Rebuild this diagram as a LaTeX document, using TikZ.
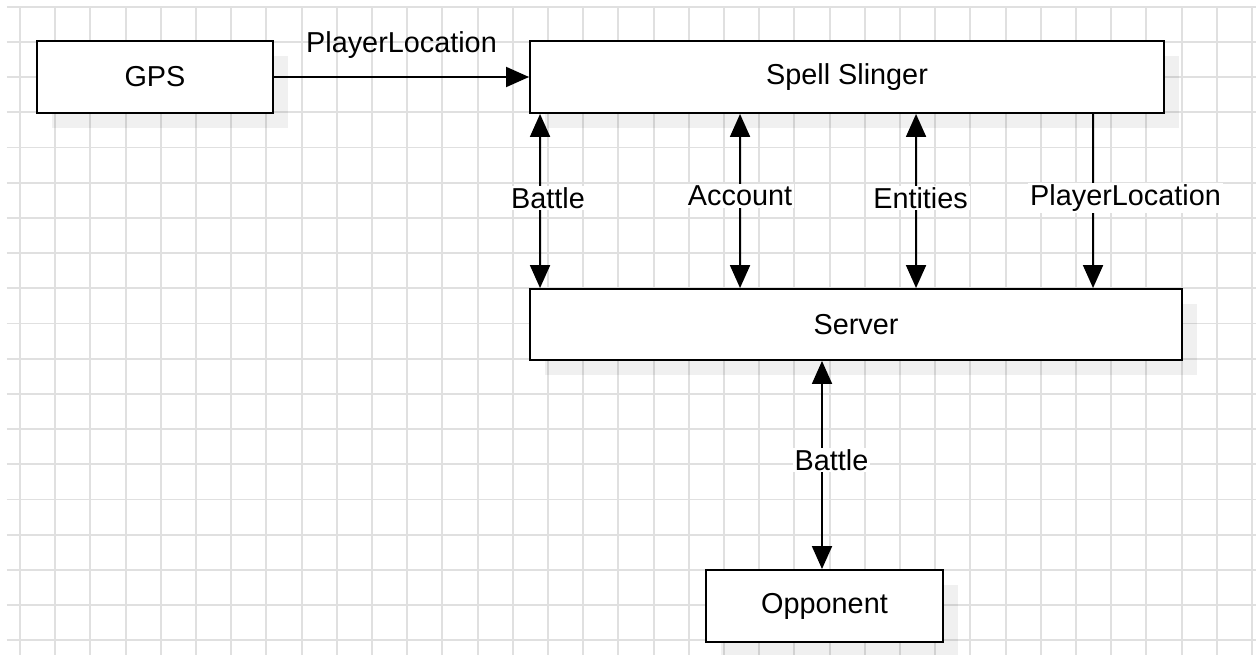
\documentclass[tikz,border=0pt]{standalone}
\usepackage{fontspec}
\setmainfont{Liberation Sans}
\usetikzlibrary{arrows.meta}

\begin{document}
\begin{tikzpicture}[thick, line width=1.1pt, font=\fontsize{16.4}{19}\selectfont,
                    block/.style = {draw, rectangle, fill=white, minimum height=1.44cm},
                    shade/.style = {fill=black, opacity=0.06, draw=none},
                    flow/.style = {-{Triangle[length=0.46cm, width=0.4cm]}},
                    both/.style = {{Triangle[length=0.46cm, width=0.4cm]}-{Triangle[length=0.46cm, width=0.4cm]}},
                    tag/.style = {fill=white, inner sep=1pt}]
    \useasboundingbox (0,0) rectangle (25.12,-13.1);
    % grid
    \foreach \i in {0,...,35}
        \draw[black!12, line width=1.1pt] ({(20+35.2*\i)/50},-0.134) -- ({(20+35.2*\i)/50},-13.1);
    \foreach \j in {0,...,18}
        \draw[black!12, line width=1.1pt] (0.134,{-(6.7+35.2*\j)/50}) -- (25.12,{-(6.7+35.2*\j)/50});

    % shadows
    \fill[shade] (1.04,-1.12) rectangle (5.76,-2.56);
    \fill[shade] (10.9,-1.12) rectangle (23.58,-2.56);
    \fill[shade] (10.9,-6.08) rectangle (23.94,-7.5);
    \fill[shade] (14.42,-11.7) rectangle (19.16,-13.1);

    \node[block, minimum width=4.72cm] (gps) at (3.1,-1.54) {GPS};
    \node[block, minimum width=12.68cm] (spell) at (16.94,-1.54) {Spell Slinger};
    \node[block, minimum width=13.04cm, minimum height=1.42cm] (server) at (17.12,-6.49) {Server};
    \node[block, minimum width=4.74cm] (opp) at (16.49,-12.12) {Opponent};

    \draw[flow] (gps) -- (spell) node [midway, yshift=0.64cm] {PlayerLocation};
    \draw[both] ([xshift=0.22cm]spell.south west) -- ([xshift=0.22cm]server.north west)
        node [tag, midway, xshift=0.16cm, yshift=0.06cm] {Battle};
    \draw[both] ([xshift=4.22cm]spell.south west) -- ([xshift=4.22cm]server.north west)
        node [tag, midway, yshift=0.1cm] {Account};
    \draw[both] ([xshift=7.74cm]spell.south west) -- ([xshift=7.74cm]server.north west)
        node [tag, midway, xshift=0.09cm, yshift=0.06cm] {Entities};
    \draw[flow] ([xshift=11.28cm]spell.south west) -- ([xshift=11.28cm]server.north west)
        node [tag, midway, xshift=0.65cm, yshift=0.06cm] {PlayerLocation};
    \draw[both] ([xshift=-0.68cm]server.south) -- ([xshift=-0.05cm]opp.north)
        node [tag, midway, xshift=0.19cm, yshift=0.1cm] {Battle};
\end{tikzpicture}
\end{document}
